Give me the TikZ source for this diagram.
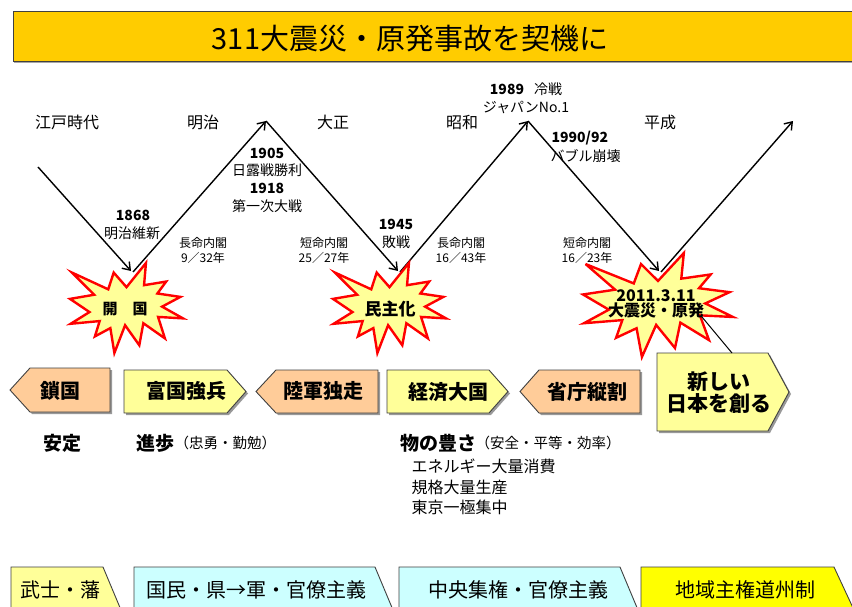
\documentclass[tikz,border=0pt]{standalone}
\usepackage{fontspec}
\setmainfont{Noto Sans CJK JP}
\usetikzlibrary{arrows.meta}
\definecolor{titleY}{HTML}{FFCC00}
\definecolor{starY}{HTML}{FFFF99}
\definecolor{peach}{HTML}{FFCC99}
\definecolor{lightY}{HTML}{FFFF99}
\definecolor{lcyan}{HTML}{CCFFFF}
\definecolor{brightY}{HTML}{FFFF00}
\newcommand\jfs[1]{\fontsize{#1}{#1}\selectfont}
\tikzset{
  zig/.style={line width=1.4pt,-{Straight Barb[length=7pt,width=10pt,line width=1.4pt]}},
  starline/.style={draw=red,line width=2.4pt,fill=starY,line join=miter,miter limit=6},
  boxline/.style={draw=black!75,line width=0.9pt},
  era/.style={font=\jfs{16}},
  ev/.style={font=\jfs{14},align=center},
  evb/.style={font=\bfseries\jfs{14}},
  cab/.style={font=\jfs{12},align=center},
  boxtxt/.style={font=\bfseries\jfs{20}},
  startxt/.style={font=\bfseries\jfs{16},align=center},
  bottxt/.style={font=\jfs{20}},
  valb/.style={font=\bfseries\jfs{19},anchor=west},
  valn/.style={font=\jfs{16},anchor=west},
}
\newcommand\explosion[4]{%
  \begin{scope}[shift={(#1,#2)},xscale=#3/100,yscale=#4/100]
  \path[starline] (50,26.85) -- (67.23,0) -- (65.53,24.65) -- (85.09,20.63) -- (77.32,33.87)
   -- (97.67,37.67) -- (81.51,48.50) -- (100,61.53) -- (77.95,59.92) -- (84.00,83.77)
   -- (64.91,66.93) -- (61.33,91.38) -- (48.76,69.14) -- (39.28,100) -- (35.72,72.35)
   -- (22.05,81.56) -- (26.24,64.52) -- (0.63,67.53) -- (17.23,54.51) -- (0,39.88)
   -- (21.42,35.26) -- (1.71,10.63) -- (33.85,29.26) -- (38.67,10.63) -- cycle;
  \end{scope}}
% right-pointing: left, top, body right, tip x, bottom, fill
\newcommand\rarrowbox[6]{%
  \fill[black!40,shift={(2,2)}] (#1,#2) -- (#3,#2) -- (#4,{(#2+#5)/2}) -- (#3,#5) -- (#1,#5) -- cycle;
  \path[boxline,fill=#6] (#1,#2) -- (#3,#2) -- (#4,{(#2+#5)/2}) -- (#3,#5) -- (#1,#5) -- cycle;}
\newcommand\rarrowflat[6]{%
  \path[boxline,fill=#6] (#1,#2) -- (#3,#2) -- (#4,{(#2+#5)/2}) -- (#3,#5) -- (#1,#5) -- cycle;}
% left-pointing: tip x, body left, right, top, bottom, fill
\newcommand\larrowbox[6]{%
  \fill[black!40,shift={(2,2)}] (#1,{(#4+#5)/2}) -- (#2,#4) -- (#3,#4) -- (#3,#5) -- (#2,#5) -- cycle;
  \path[boxline,fill=#6] (#1,{(#4+#5)/2}) -- (#2,#4) -- (#3,#4) -- (#3,#5) -- (#2,#5) -- cycle;}
\begin{document}
\begin{tikzpicture}[x=1pt,y=-1pt]
\useasboundingbox (0,0) rectangle (852,607);
\clip (0,0) rectangle (852,607);
\fill[white] (0,0) rectangle (852,607);
% title
\fill[black!35] (14,13) rectangle (870,63.5);
\path[draw=black!75,line width=1pt,fill=titleY] (13,12) rectangle (870,62);
\node[font=\jfs{29}] (title) at (410,39) {311大震災・原発事故を契機に};
% eras
\node[era] (edo) at (67,122) {江戸時代};
\node[era] (meiji) at (203,122) {明治};
\node[era] (taisho) at (333,122) {大正};
\node[era] (showa) at (462,122) {昭和};
\node[era] (heisei) at (660,122) {平成};
% zigzag
\coordinate (a0) at (38,167);
\coordinate (v1) at (131,271);
\coordinate (v1s) at (133,272);
\coordinate (p1) at (266,121);
\coordinate (v2) at (398,271);
\coordinate (v2s) at (400,272);
\coordinate (p2) at (528,121);
\coordinate (v3) at (659,271);
\coordinate (v3s) at (661,272);
\coordinate (e) at (793,121);
\draw[zig] (a0) -- (v1);
\draw[zig] (v1s) -- (p1);
\draw[zig] (p1) -- (v2);
\draw[zig] (v2s) -- (p2);
\draw[zig] (p2) -- (v3);
\draw[zig] (v3s) -- (e);
% events
\node[evb] (y1868) at (133,215) {1868};
\node[ev] (ishin) at (132,233) {明治維新};
\node[evb] (y1905) at (267,153) {1905};
\node[ev] (nichiro) at (267,170) {日露戦勝利};
\node[evb] (y1918) at (267,188) {1918};
\node[ev] (ww1) at (267,206) {第一次大戦};
\node[evb] (y1945) at (396,224) {1945};
\node[ev] (haisen) at (396,242) {敗戦};
\node[evb] (y1989) at (507,89) {1989};
\node[ev] (reisen) at (548,89) {冷戦};
\node[ev] (japan) at (526,107) {ジャパンNo.1};
\node[evb,anchor=west] (y1990) at (548,138) {1990/92};
\node[ev,anchor=west] (bubble) at (547,156) {バブル崩壊};
% cabinets
\node[cab] (c1a) at (203,243) {長命内閣};
\node[cab] (c1b) at (203,258) {9／32年};
\node[cab] (c2a) at (324,243) {短命内閣};
\node[cab] (c2b) at (324,258) {25／27年};
\node[cab] (c3a) at (461,243) {長命内閣};
\node[cab] (c3b) at (461,258) {16／43年};
\node[cab] (c4a) at (587,243) {短命内閣};
\node[cab] (c4b) at (587,258) {16／23年};
% explosions
\explosion{70}{263}{113}{90}
\explosion{333}{263}{113}{90}
\explosion{583}{253}{150}{104}
\node[startxt,font=\bfseries\jfs{15}] (kaikoku) at (125,309) {開　国};
\node[startxt,font=\bfseries\jfs{17}] (minshu) at (390,309) {民主化};
\node[startxt] (quake) at (656,304) {2011.3.11\\[-1pt]大震災・原発};
\coordinate (qk) at (702,317);
% row of boxes
\larrowbox{10}{30}{110}{368}{412}{peach}
\node[boxtxt] (sakoku) at (60,391) {鎖国};
\rarrowbox{124}{370}{227}{246}{413}{lightY}
\node[boxtxt] (fukoku) at (186,391) {富国強兵};
\larrowbox{256}{276}{378}{370}{413}{peach}
\node[boxtxt] (rikugun) at (323,391) {陸軍独走};
\rarrowbox{387}{370}{489}{508}{413}{lightY}
\node[boxtxt] (keizai) at (448,392) {経済大国};
\larrowbox{520}{539}{640}{370}{413}{peach}
\node[boxtxt] (shocho) at (587,392) {省庁縦割};
\rarrowbox{657}{353}{768}{789}{431}{lightY}
\coordinate (nb) at (732,353);
\node[font=\bfseries\jfs{21},align=center] (atarashii) at (719,393) {新しい\\[1pt]日本を創る};
\draw[line width=1pt] (qk) -- (nb);
% values
\node[valb] (antei) at (40,443) {安定};
\node[valb] (shinpo) at (133,443) {進歩};
\node[valn,font=\jfs{14.5}] (chuyu) at (171,443) {（忠勇・勤勉）};
\node[valb] (yutaka) at (397,443) {物の豊さ};
\node[valn,font=\jfs{14.5}] (anzen) at (472,443) {（安全・平等・効率）};
\node[valn] (l1) at (408,466) {エネルギー大量消費};
\node[valn] (l2) at (408,487) {規格大量生産};
\node[valn] (l3) at (408,507) {東京一極集中};
% bottom row
\rarrowflat{11}{567}{103}{121}{653}{lightY}
\node[bottxt] (bushi) at (60,590) {武士・藩};
\rarrowflat{134}{567}{375}{393}{653}{lcyan}
\node[bottxt] (kokumin) at (256,590) {国民・県→軍・官僚主義};
\rarrowflat{399}{567}{620}{638}{653}{lcyan}
\node[bottxt] (chuo) at (518,590) {中央集権・官僚主義};
\rarrowflat{641}{567}{834}{854}{653}{brightY}
\node[bottxt] (chiiki) at (745,590) {地域主権道州制};
\end{tikzpicture}
\end{document}
